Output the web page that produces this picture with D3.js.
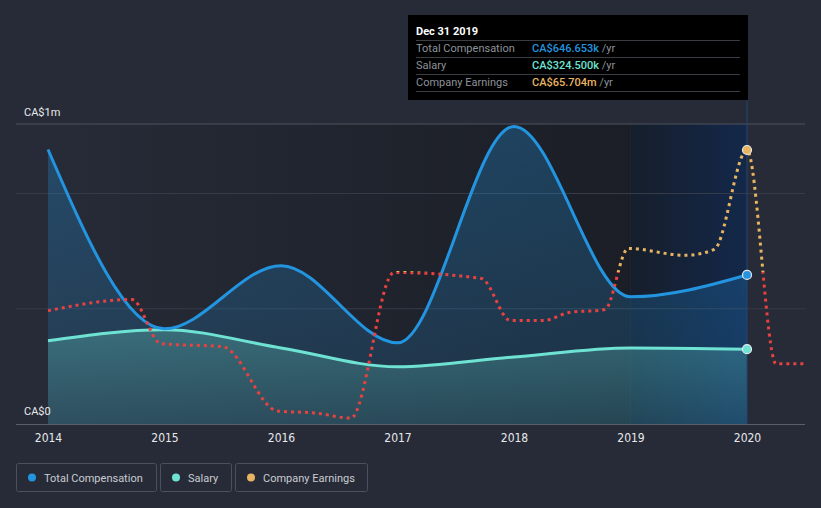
<!DOCTYPE html>
<html>
<head>
<meta charset="utf-8">
<script src="https://cdn.jsdelivr.net/npm/d3@7"></script>
<style>
  body { margin: 0; background: #262b37; }
  svg { display: block; font-family: Roboto, "Noto Sans", sans-serif; }
</style>
</head>
<body>
<div id="wrapper"></div>
<script>
// Data (compensation in CA$ thousands, earnings in CA$ millions)
const years = [2014, 2015, 2016, 2017, 2018, 2019, 2020];
const totalComp = [1191, 413, 687, 352, 1291, 552, 646.653];
const salary = [361, 409, 330, 248, 291, 330, 324.5];

const earningsDates = [2014.0, 2014.72, 2014.97, 2015.5, 2015.97, 2016.3, 2016.6, 2016.97, 2017.72, 2017.97, 2018.25, 2018.47, 2018.78, 2018.98, 2019.47, 2019.72, 2020.0, 2020.25, 2020.5];
const earnings = [-20.5, -14.5, -38.2, -39.8, -74.3, -75.4, -78.1, 0.0, -3.2, -25.8, -25.8, -21.5, -19.9, 12.9, 9.2, 12.4, 65.704, -49.0, -49.0];

const xTicks = [2014, 2015, 2016, 2017, 2018, 2019, 2020];
const yTickLabels = ["CA$0", "CA$1m"];

const legendItems = ["Total Compensation", "Salary", "Company Earnings"];
const colors = { total: "#2394df", salary: "#6fe3d3", earnPos: "#e9b462", earnNeg: "#e8413f" };

const dimensions = { width: 821, height: 508, top: 124, bottom: 424, left: 16, right: 805 };

const svg = d3.select("#wrapper").append("svg")
  .attr("width", dimensions.width)
  .attr("height", dimensions.height);

svg.append("rect").attr("width", dimensions.width).attr("height", dimensions.height).attr("fill", "#262b37");

// Scales
const xScale = d3.scaleLinear().domain([2014, 2020.5]).range([48, 805.25]);
const yComp = d3.scaleLinear().domain([0, 1000]).range([dimensions.bottom, 193.5]);
const yEarn = d3.scaleLinear().domain([0, 65.704]).range([272.5, 150]);

const defs = svg.append("defs");

const darkGrad = defs.append("linearGradient").attr("id", "darkGrad");
darkGrad.append("stop").attr("offset", "0%").attr("stop-color", "#262b37");
darkGrad.append("stop").attr("offset", "100%").attr("stop-color", "#1b1e26");

const blueGrad = defs.append("linearGradient").attr("id", "blueGrad");
blueGrad.append("stop").attr("offset", "0%").attr("stop-color", "#161e2b");
blueGrad.append("stop").attr("offset", "100%").attr("stop-color", "#13284a");

const compArea = defs.append("linearGradient").attr("id", "compArea").attr("x1", 0).attr("x2", 0).attr("y1", 0).attr("y2", 1);
compArea.append("stop").attr("offset", "0%").attr("stop-color", colors.total).attr("stop-opacity", 0.3);
compArea.append("stop").attr("offset", "100%").attr("stop-color", colors.total).attr("stop-opacity", 0.15);

const salArea = defs.append("linearGradient").attr("id", "salArea").attr("x1", 0).attr("x2", 0).attr("y1", 0).attr("y2", 1);
salArea.append("stop").attr("offset", "0%").attr("stop-color", colors.salary).attr("stop-opacity", 0.28);
salArea.append("stop").attr("offset", "100%").attr("stop-color", colors.salary).attr("stop-opacity", 0.12);

const zeroOffset = (yEarn(0) - dimensions.top) / (dimensions.bottom - dimensions.top);
const earnGrad = defs.append("linearGradient").attr("id", "earnGrad")
  .attr("gradientUnits", "userSpaceOnUse")
  .attr("x1", 0).attr("x2", 0).attr("y1", dimensions.top).attr("y2", dimensions.bottom);
earnGrad.append("stop").attr("offset", zeroOffset).attr("stop-color", colors.earnPos);
earnGrad.append("stop").attr("offset", zeroOffset).attr("stop-color", colors.earnNeg);

// Background bands
svg.append("rect")
  .attr("x", xScale(2014)).attr("y", dimensions.top)
  .attr("width", xScale(2019) - xScale(2014)).attr("height", dimensions.bottom - dimensions.top)
  .attr("fill", "url(#darkGrad)");
svg.append("rect")
  .attr("x", xScale(2019)).attr("y", dimensions.top)
  .attr("width", xScale(2020) - xScale(2019)).attr("height", dimensions.bottom - dimensions.top)
  .attr("fill", "url(#blueGrad)");
svg.append("line")
  .attr("x1", xScale(2019)).attr("x2", xScale(2019))
  .attr("y1", dimensions.top).attr("y2", dimensions.bottom)
  .attr("stroke", "#1a2536").attr("stroke-width", 1);

// Gridlines
svg.append("line")
  .attr("x1", dimensions.left).attr("x2", dimensions.right)
  .attr("y1", dimensions.top).attr("y2", dimensions.top)
  .attr("stroke", "#4d525c").attr("stroke-width", 1);
[500, 1000].forEach(v => {
  svg.append("line")
    .attr("x1", dimensions.left).attr("x2", dimensions.right)
    .attr("y1", yComp(v)).attr("y2", yComp(v))
    .attr("stroke", "#353b47").attr("stroke-width", 1);
});

// Areas and lines
const compData = years.map((y, i) => ({ x: y, total: totalComp[i], salary: salary[i] }));

const areaTotal = d3.area().curve(d3.curveMonotoneX)
  .x(d => xScale(d.x)).y0(yComp(0)).y1(d => yComp(d.total));
const areaSalary = d3.area().curve(d3.curveMonotoneX)
  .x(d => xScale(d.x)).y0(yComp(0)).y1(d => yComp(d.salary));
const lineTotal = d3.line().curve(d3.curveMonotoneX).x(d => xScale(d.x)).y(d => yComp(d.total));
const lineSalary = d3.line().curve(d3.curveMonotoneX).x(d => xScale(d.x)).y(d => yComp(d.salary));

svg.append("path").datum(compData).attr("d", areaTotal).attr("fill", "url(#compArea)");
svg.append("path").datum(compData).attr("d", areaSalary).attr("fill", "url(#salArea)");
svg.append("path").datum(compData).attr("d", lineSalary)
  .attr("fill", "none").attr("stroke", colors.salary).attr("stroke-width", 3);
svg.append("path").datum(compData).attr("d", lineTotal)
  .attr("fill", "none").attr("stroke", colors.total).attr("stroke-width", 3);

const earnData = earningsDates.map((d, i) => ({ x: d, v: earnings[i] }));
const lineEarn = d3.line().curve(d3.curveMonotoneX).x(d => xScale(d.x)).y(d => yEarn(d.v));
svg.append("path").datum(earnData).attr("d", lineEarn)
  .attr("fill", "none").attr("stroke", "url(#earnGrad)")
  .attr("stroke-width", 3).attr("stroke-dasharray", "3 4");

// Hover line
svg.append("line")
  .attr("x1", xScale(2020)).attr("x2", xScale(2020))
  .attr("y1", 100).attr("y2", dimensions.bottom)
  .attr("stroke", "#24466e").attr("stroke-width", 1);

// X axis
svg.append("line")
  .attr("x1", dimensions.left).attr("x2", dimensions.right)
  .attr("y1", dimensions.bottom + 0.5).attr("y2", dimensions.bottom + 0.5)
  .attr("stroke", "#5a5f68").attr("stroke-width", 1);

const xAxis = svg.append("g")
  .attr("transform", `translate(0, ${dimensions.bottom})`)
  .call(d3.axisBottom(xScale).tickValues(xTicks).tickFormat(d3.format("d")).tickSize(0).tickPadding(9));
xAxis.select(".domain").remove();
xAxis.selectAll("text")
  .attr("fill", "#e8e9eb")
  .style("font-family", "'Liberation Sans Narrow', 'DejaVu Sans Condensed', Roboto, sans-serif")
  .style("font-size", "12px");

// Y labels
svg.append("text").attr("x", 24).attr("y", 116).text(yTickLabels[1])
  .attr("fill", "#e8e9eb").style("font-size", "11px");
svg.append("text").attr("x", 24).attr("y", 415).text(yTickLabels[0])
  .attr("fill", "#e8e9eb").style("font-size", "11px");

// End dots
const last = compData[compData.length - 1];
const lastEarn = earnData.find(d => d.x === 2020);
[[yComp(last.total), colors.total], [yComp(last.salary), colors.salary], [yEarn(lastEarn.v), colors.earnPos]]
  .forEach(([cy, c]) => {
    svg.append("circle").attr("cx", xScale(2020)).attr("cy", cy).attr("r", 4.5)
      .attr("fill", c).attr("stroke", "#e6e9ee").attr("stroke-width", 1.2);
  });

// Tooltip
const tip = svg.append("g").attr("transform", "translate(408, 15)");
tip.append("rect").attr("width", 340).attr("height", 85).attr("fill", "#000");
tip.append("text").attr("x", 8).attr("y", 20).text("Dec 31 2019")
  .attr("fill", "#fff").style("font-size", "11px").style("font-weight", "bold");
const tipRows = [
  ["Total Compensation", "CA$646.653k", colors.total],
  ["Salary", "CA$324.500k", colors.salary],
  ["Company Earnings", "CA$65.704m", colors.earnPos]
];
[25, 42, 59, 76].forEach(y => {
  tip.append("line").attr("x1", 8).attr("x2", 332).attr("y1", y + 0.5).attr("y2", y + 0.5)
    .attr("stroke", "#3a3d42").attr("stroke-width", 1);
});
tipRows.forEach((r, i) => {
  const y = 37 + i * 17;
  tip.append("text").attr("x", 8).attr("y", y).text(r[0])
    .attr("fill", "#8d9299").style("font-size", "11px");
  const t = tip.append("text").attr("x", 124).attr("y", y).style("font-size", "11px");
  t.append("tspan").text(r[1]).attr("fill", r[2]).style("font-weight", "500");
  t.append("tspan").text(" /yr").attr("fill", "#8d9299");
});

// Legend
const legendBoxes = [[16, 140], [160, 71], [235, 132]];
const legendColors = [colors.total, colors.salary, colors.earnPos];
legendItems.forEach((name, i) => {
  const [x, w] = legendBoxes[i];
  const g = svg.append("g").attr("transform", `translate(${x}, 463)`);
  g.append("rect").attr("x", 0.5).attr("y", 0.5).attr("width", w).attr("height", 28).attr("rx", 2)
    .attr("fill", "none").attr("stroke", "#4b515c");
  g.append("circle").attr("cx", 16).attr("cy", 14.5).attr("r", 4).attr("fill", legendColors[i]);
  g.append("text").attr("x", 28).attr("y", 18.5).text(name)
    .attr("fill", "#c9ccd1").style("font-size", "11px");
});
</script>
</body>
</html>
